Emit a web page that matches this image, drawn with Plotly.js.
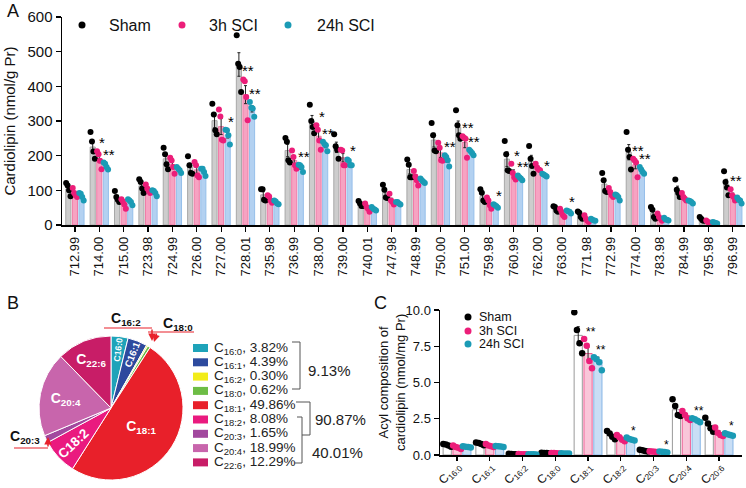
<!DOCTYPE html>
<html>
<head>
<meta charset="utf-8">
<script src="https://cdn.plot.ly/plotly-3.0.1.min.js"></script>
<style>
  html, body { margin: 0; padding: 0; background: #fff; }
  #chart { width: 746px; height: 488px; }
</style>
</head>
<body>
<div id="chart"></div>
<script>
const FONT = 'Arial, "Liberation Sans", sans-serif';
const W = 746, H = 488;
// pixel -> paper helpers (layout only)
const px = v => v / W;
const py = v => 1 - v / H;

// ---------- Panel A: cardiolipin species (nmol/g Pr) ----------
const speciesA = ['712.99', '714.00', '715.00', '723.98', '724.99', '726.00', '727.00',
  '728.01', '735.98', '736.99', '738.00', '739.00', '740.01', '747.98', '748.99', '750.00',
  '751.00', '759.98', '760.99', '762.00', '763.00', '771.98', '772.99', '774.00', '783.98',
  '784.99', '795.98', '796.99'];

const shamMeanA = [104, 225, 79, 113, 191, 167, 301, 463, 87, 215, 299, 224, 60, 94,
  160, 245, 282, 83, 190, 184, 46, 29, 118, 210, 34, 101, 16, 118];
const sci3hMeanA = [91, 191, 62, 103, 174, 159, 284, 376, 76, 186, 256, 194, 50, 71,
  135, 208, 238, 63, 149, 165, 34, 17, 92, 174, 21, 80, 9, 85];
const sci24hMeanA = [83, 171, 67, 93, 159, 155, 260, 335, 65, 166, 229, 180, 47, 63,
  127, 188, 210, 55, 136, 144, 38, 15, 82, 157, 16, 67, 6, 71];

const shamSemA = [8, 17, 7, 9, 14, 11, 21, 34, 9, 18, 17, 15, 3, 9, 13, 20, 18, 9, 21, 17, 4, 5, 14, 22, 8, 11, 3, 14];
const sci3hSemA = [6, 11, 6, 5, 10, 10, 23, 26, 5, 12, 15, 12, 5, 6, 9, 13, 15, 7, 10, 5, 5, 4, 6, 12, 4, 5, 2, 7];
const sci24hSemA = [5, 5, 4, 4, 4, 5, 9, 9, 3, 5, 6, 5, 2, 2, 3, 7, 3, 2, 3, 2, 2, 2, 4, 4, 2, 2, 1, 4];

const shamDotsA = [[121, 114, 100, 83], [268, 241, 212, 191], [98, 81, 73, 66], [132, 124, 105, 92],
  [223, 204, 175, 161], [198, 172, 150, 148], [350, 319, 273, 262], [547, 465, 456, 384],
  [103, 103, 73, 71], [251, 240, 187, 180], [347, 300, 283, 265], [262, 227, 217, 191],
  [69, 62, 55, 55], [116, 102, 79, 78], [189, 174, 138, 138], [294, 259, 215, 213],
  [331, 288, 259, 249], [103, 93, 71, 66], [242, 204, 158, 156], [228, 191, 170, 148],
  [54, 52, 42, 38], [39, 35, 23, 18], [150, 129, 98, 95], [268, 217, 196, 160],
  [52, 44, 23, 18], [131, 102, 92, 81], [23, 18, 13, 12], [155, 124, 108, 86]];
const sci3hDotsA = [[107, 92, 86, 81], [213, 204, 185, 161], [74, 68, 59, 47], [117, 105, 98, 92],
  [194, 186, 167, 148], [182, 172, 143, 138], [333, 313, 246, 244], [420, 415, 369, 302],
  [86, 82, 71, 64], [215, 196, 172, 162], [288, 275, 244, 217], [217, 215, 172, 172],
  [62, 52, 47, 38], [90, 71, 66, 59], [156, 140, 129, 114], [237, 223, 187, 185],
  [256, 252, 249, 194], [79, 71, 57, 47], [177, 150, 138, 131], [177, 165, 160, 158],
  [47, 38, 28, 23], [28, 18, 12, 9], [107, 95, 86, 81], [191, 186, 180, 138],
  [33, 23, 18, 12], [92, 81, 76, 71], [13, 9, 7, 6], [103, 86, 81, 71]];
const sci24hDotsA = [[92, 90, 81, 71], [180, 177, 167, 160], [74, 71, 66, 57], [100, 98, 92, 83],
  [167, 162, 158, 150], [162, 162, 153, 141], [275, 273, 259, 232], [355, 338, 336, 312],
  [71, 68, 62, 60], [174, 172, 167, 153], [240, 234, 230, 213], [189, 185, 172, 172],
  [52, 47, 45, 42], [66, 66, 62, 59], [134, 129, 125, 121], [201, 196, 187, 169],
  [217, 213, 208, 201], [60, 57, 54, 50], [143, 138, 134, 129], [148, 146, 143, 140],
  [42, 40, 38, 33], [18, 15, 13, 12], [88, 86, 81, 71], [167, 160, 153, 148],
  [21, 16, 15, 13], [71, 69, 66, 62], [9, 7, 6, 4], [79, 73, 71, 62]];

const sig3hA = ['', '*', '', '', '', '', '', '**', '', '', '*', '', '', '', '', '', '**', '', '*', '', '', '', '', '**', '', '', '', '**'];
const sig24hA = ['', '**', '', '', '', '', '*', '**', '', '**', '**', '*', '', '', '', '**', '**', '*', '**', '*', '*', '', '', '**', '', '', '', ''];

// ---------- Panel B: acyl chain share (%) ----------
const acylB = ['16:0', '16:1', '16:2', '18:0', '18:1', '18:2', '20:3', '20:4', '22:6'];
const shareB = [3.82, 4.39, 0.30, 0.62, 49.86, 8.08, 1.65, 18.99, 12.29];
const colorB = ['#1ea3b9', '#2d4a9e', '#f2ec19', '#6dbd45', '#e8202a', '#ea1a7f', '#a2489e', '#c865ac', '#c81d67'];
// how each slice is labelled inside the pie: h = flat, r = along the radius, '' = call-out
const labelModeB = ['r', 'r', '', '', 'h', 'r', '', 'h', 'h'];

// ---------- Panel C: acyl composition (nmol/mg Pr) ----------
const acylC = ['16:0', '16:1', '16:2', '18:0', '18:1', '18:2', '20:3', '20:4', '20:6'];
const shamMeanC = [0.68, 0.78, 0.065, 0.14, 8.25, 1.37, 0.30, 3.12, 2.05];
const sci3hMeanC = [0.53, 0.64, 0.06, 0.12, 7.0, 1.15, 0.23, 2.68, 1.53];
const sci24hMeanC = [0.56, 0.59, 0.05, 0.11, 6.55, 1.08, 0.21, 2.4, 1.42];
const shamSemC = [0.04, 0.04, 0.01, 0.01, 0.6, 0.13, 0.03, 0.3, 0.22];
const sci3hSemC = [0.05, 0.04, 0.01, 0.01, 0.45, 0.09, 0.02, 0.14, 0.13];
const sci24hSemC = [0.02, 0.02, 0.01, 0.01, 0.2, 0.04, 0.01, 0.06, 0.04];
const shamDotsC = [[0.76, 0.72, 0.66, 0.57], [0.87, 0.82, 0.76, 0.68], [0.08, 0.07, 0.06, 0.05],
  [0.16, 0.14, 0.13, 0.12], [9.84, 8.62, 7.70, 7.01], [1.66, 1.49, 1.26, 1.08],
  [0.36, 0.32, 0.28, 0.24], [3.84, 3.38, 2.76, 2.69], [2.57, 2.18, 1.84, 1.61]];
const sci3hDotsC = [[0.66, 0.55, 0.50, 0.41], [0.76, 0.66, 0.60, 0.55], [0.07, 0.06, 0.05, 0.05],
  [0.14, 0.13, 0.12, 0.11], [8.0, 7.54, 6.48, 5.98], [1.38, 1.22, 1.05, 0.95],
  [0.26, 0.24, 0.22, 0.2], [3.03, 2.76, 2.53, 2.41], [1.89, 1.54, 1.38, 1.31]];
const sci24hDotsC = [[0.6, 0.57, 0.55, 0.52], [0.62, 0.6, 0.58, 0.55], [0.06, 0.05, 0.05, 0.04],
  [0.12, 0.11, 0.11, 0.1], [6.74, 6.6, 6.4, 5.85], [1.2, 1.1, 1.05, 1.0],
  [0.24, 0.22, 0.2, 0.18], [2.53, 2.46, 2.37, 2.25], [1.5, 1.43, 1.38, 1.33]];
const sig3hC = ['', '', '', '', '**', '', '', '', ''];
const sig24hC = ['', '', '', '', '**', '*', '*', '**', '*'];

const groupNames = ['Sham', '3h SCI', '24h SCI'];

// ---------- styles ----------
const dotColor = ['#000000', '#ec1e79', '#1b9bb5'];
const fillA = ['#cdcdcd', '#f6a3c2', '#b3d1f1'];
const edgeA = ['#a8a8a8', '#f07aa6', '#96bfea'];
const fillC = ['#ffffff', '#f9c6d9', '#c9def5'];
const edgeC = ['#9a9a9a', '#ef5f95', '#86b5e6'];

const traces = [];
const annotations = [];
const shapes = [];

function addGroup(o) {
  const idx = o.means.map((_, i) => i);
  traces.push({
    type: 'bar', xaxis: o.xa, yaxis: o.ya,
    x: idx.map(i => i + o.off), y: o.means, width: o.bw,
    marker: { color: o.fill, line: { color: o.edge, width: 1 } },
    error_y: { type: 'data', array: o.sems, color: '#222', thickness: 1, width: 1.5 },
    showlegend: false, hoverinfo: 'skip'
  });
  const xs = [], ys = [];
  o.dots.forEach((row, i) => row.forEach((v, k) => {
    xs.push(i + o.off + o.spread[k]);
    ys.push(v);
  }));
  traces.push({
    type: 'scatter', mode: 'markers', xaxis: o.xa, yaxis: o.ya,
    x: xs, y: ys, marker: { color: o.dot, size: o.dotSize },
    showlegend: false, hoverinfo: 'skip'
  });
  o.sig.forEach((s, i) => {
    if (!s) return;
    annotations.push({
      xref: o.xa, yref: o.ya, x: i + o.off, y: Math.max(...o.dots[i]),
      text: s, showarrow: false, xanchor: 'center', yanchor: 'bottom', xshift: 3, yshift: -2,
      font: { family: FONT, size: o.starSize, color: '#000' }
    });
  });
}

// Panel A groups
const meansA = [shamMeanA, sci3hMeanA, sci24hMeanA];
const semsA = [shamSemA, sci3hSemA, sci24hSemA];
const dotsA = [shamDotsA, sci3hDotsA, sci24hDotsA];
const sigA = [null, sig3hA, sig24hA];
[0, 1, 2].forEach(g => addGroup({
  xa: 'x', ya: 'y', means: meansA[g], sems: semsA[g], dots: dotsA[g],
  sig: sigA[g] || [], off: (g - 1) * 0.27, bw: 0.21, spread: [-0.09, -0.03, 0.03, 0.09],
  fill: fillA[g], edge: edgeA[g], dot: dotColor[g], dotSize: 6, starSize: 15
}));

// Panel C groups
const meansC = [shamMeanC, sci3hMeanC, sci24hMeanC];
const semsC = [shamSemC, sci3hSemC, sci24hSemC];
const dotsC = [shamDotsC, sci3hDotsC, sci24hDotsC];
const sigC = [null, sig3hC, sig24hC];
[0, 1, 2].forEach(g => addGroup({
  xa: 'x2', ya: 'y2', means: meansC[g], sems: semsC[g], dots: dotsC[g],
  sig: sigC[g] || [], off: (g - 1) * 0.3, bw: 0.25, spread: [-0.12, -0.04, 0.04, 0.12],
  fill: fillC[g], edge: edgeC[g], dot: dotColor[g], dotSize: 6.5, starSize: 12
}));

// Panel B pie: coloured slices with flat labels, plus a clear copy for radial labels
const pieDomain = { x: [px(39), px(183)], y: [py(480), py(336)] };
const pieFont = { family: FONT, size: 14, color: '#ffffff', weight: 'bold' };
traces.push({
  type: 'pie', values: shareB, labels: acylB, sort: false, direction: 'clockwise', rotation: 0,
  domain: pieDomain,
  marker: { colors: colorB, line: { color: '#ffffff', width: 1 } },
  text: acylB.map((a, i) => labelModeB[i] === 'h' ? 'C<sub>' + a + '</sub>' : ''),
  textinfo: 'text', textposition: 'inside', insidetextorientation: 'horizontal',
  textfont: pieFont, showlegend: false, hoverinfo: 'skip'
});
traces.push({
  type: 'pie', values: shareB, labels: acylB, sort: false, direction: 'clockwise', rotation: 0,
  domain: pieDomain,
  marker: { colors: acylB.map(() => 'rgba(0,0,0,0)'), line: { width: 0 } },
  text: acylB.map((a, i) => labelModeB[i] === 'r' ? 'C' + a : ''),
  textinfo: 'text', textposition: 'inside', insidetextorientation: 'radial',
  textfont: pieFont, showlegend: false, hoverinfo: 'skip'
});

// Panel B legend
acylB.forEach((a, i) => {
  const yRow = 348 + i * 14.3;
  shapes.push({
    type: 'rect', xref: 'paper', yref: 'paper',
    x0: px(193), x1: px(208), y0: py(yRow + 4), y1: py(yRow - 4),
    fillcolor: colorB[i], line: { width: 0 }
  });
  annotations.push({
    xref: 'paper', yref: 'paper', x: px(212), y: py(yRow), xanchor: 'left', yanchor: 'middle',
    text: 'C<sub>' + a + '</sub>, ' + shareB[i].toFixed(2) + '%', showarrow: false,
    font: { family: FONT, size: 13.5, color: '#222' }
  });
});
const bracket = pts => 'M ' + pts.map(p => px(p[0]) + ',' + py(p[1])).join(' L ');
[[[292, 342], [300, 342], [300, 389], [292, 389]],
 [[296, 402], [310, 402], [310, 435], [302, 435]],
 [[297, 417], [302, 417], [302, 463], [295, 463]]].forEach(pts => shapes.push({
  type: 'path', xref: 'paper', yref: 'paper', path: bracket(pts), line: { color: '#555', width: 1 }
}));
[['9.13%', 306, 370], ['90.87%', 313, 419], ['40.01%', 310, 452]].forEach(([t, x, y]) => annotations.push({
  xref: 'paper', yref: 'paper', x: px(x), y: py(y), xanchor: 'left', yanchor: 'middle',
  text: t, showarrow: false, font: { family: FONT, size: 15, color: '#222' }
}));

// Panel B call-outs for thin slices
const red = '#e8202a';
[[[104, 328], [152, 328]], [[148, 332], [194, 332]], [[14, 448], [48, 448]]].forEach(pts => shapes.push({
  type: 'path', xref: 'paper', yref: 'paper', path: bracket(pts), line: { color: red, width: 1.2 }
}));
[[152, 341, 0, -13], [154, 342, 3, -10], [48, 437, 0, 11]].forEach(([x, y, ax, ay]) => annotations.push({
  xref: 'paper', yref: 'paper', x: px(x), y: py(y), ax: ax, ay: ay, text: '', showarrow: true,
  arrowhead: 2, arrowsize: 1, arrowwidth: 1.5, arrowcolor: red
}));
[['16:2', 126, 319], ['18:0', 178, 324], ['20:3', 25, 437]].forEach(([a, x, y]) => annotations.push({
  xref: 'paper', yref: 'paper', x: px(x), y: py(y), xanchor: 'center', yanchor: 'middle',
  text: 'C<sub>' + a + '</sub>', showarrow: false, font: { family: FONT, size: 14, color: '#111', weight: 'bold' }
}));

// legends for A and C
const legA = [[82, 107], [182, 207], [288, 315]];
const legC = [317, 331, 344];
groupNames.forEach((name, g) => {
  shapes.push({
    type: 'circle', xref: 'paper', yref: 'paper', xsizemode: 'pixel', ysizemode: 'pixel',
    xanchor: px(legA[g][0]), yanchor: py(25), x0: -3.5, x1: 3.5, y0: -3.5, y1: 3.5,
    fillcolor: dotColor[g], line: { width: 0 }
  });
  annotations.push({
    xref: 'paper', yref: 'paper', x: px(legA[g][1]), y: py(25), xanchor: 'left', yanchor: 'middle',
    text: name, showarrow: false, font: { family: FONT, size: 16, color: '#111' }
  });
  shapes.push({
    type: 'circle', xref: 'paper', yref: 'paper', xsizemode: 'pixel', ysizemode: 'pixel',
    xanchor: px(468), yanchor: py(legC[g]), x0: -3.5, x1: 3.5, y0: -3.5, y1: 3.5,
    fillcolor: dotColor[g], line: { width: 0 }
  });
  annotations.push({
    xref: 'paper', yref: 'paper', x: px(477), y: py(legC[g]), xanchor: 'left', yanchor: 'middle',
    text: name, showarrow: false, font: { family: FONT, size: 12.5, color: '#111' }
  });
});

// panel letters and the C axis title
[['A', 5, 11], ['B', 5, 303], ['C', 372, 303]].forEach(([t, x, y]) => annotations.push({
  xref: 'paper', yref: 'paper', x: px(x), y: py(y), xanchor: 'left', yanchor: 'middle',
  text: t, showarrow: false, font: { family: FONT, size: 18, color: '#111' }
}));
annotations.push({
  xref: 'paper', yref: 'paper', x: px(392), y: py(383), xanchor: 'center', yanchor: 'middle',
  textangle: -90, text: 'Acyl composition of<br>cardiolipin (nmol/mg Pr)', showarrow: false,
  font: { family: FONT, size: 13, color: '#111' }
});

const axisBase = {
  showline: true, linecolor: '#000', linewidth: 1.5, ticks: 'outside', ticklen: 5,
  tickwidth: 1.2, tickcolor: '#000', showgrid: false, zeroline: false, fixedrange: true
};

const layout = {
  width: W, height: H, margin: { l: 0, r: 0, t: 0, b: 0 },
  paper_bgcolor: '#fff', plot_bgcolor: 'rgba(0,0,0,0)',
  font: { family: FONT, color: '#111' },
  barmode: 'overlay', showlegend: false,
  xaxis: Object.assign({}, axisBase, {
    domain: [px(62), px(745)], range: [-0.53, 27.5], anchor: 'y',
    tickmode: 'array', tickvals: speciesA.map((_, i) => i), ticktext: speciesA,
    tickangle: -90, tickfont: { size: 13 }
  }),
  yaxis: Object.assign({}, axisBase, {
    domain: [py(225), py(17)], range: [0, 600], dtick: 100, anchor: 'x',
    tickfont: { size: 15 },
    title: { text: 'Cardiolipin (nmol/g Pr)', font: { size: 15 }, standoff: 8 }
  }),
  xaxis2: Object.assign({}, axisBase, {
    domain: [px(440), px(742)], range: [-0.52, 8.7], anchor: 'y2',
    tickmode: 'array', tickvals: acylC.map((_, i) => i),
    ticktext: acylC.map(a => 'C<sub>' + a + '</sub>'),
    tickangle: -45, tickfont: { size: 12 }, ticklen: 4, ticklabelstandoff: -6
  }),
  yaxis2: Object.assign({}, axisBase, {
    domain: [py(455), py(310)], range: [0, 10], dtick: 2.5, tickformat: '.1f', anchor: 'x2',
    tickfont: { size: 13 }
  }),
  shapes: shapes,
  annotations: annotations
};

Plotly.newPlot('chart', traces, layout, { staticPlot: true, displayModeBar: false });
</script>
</body>
</html>
